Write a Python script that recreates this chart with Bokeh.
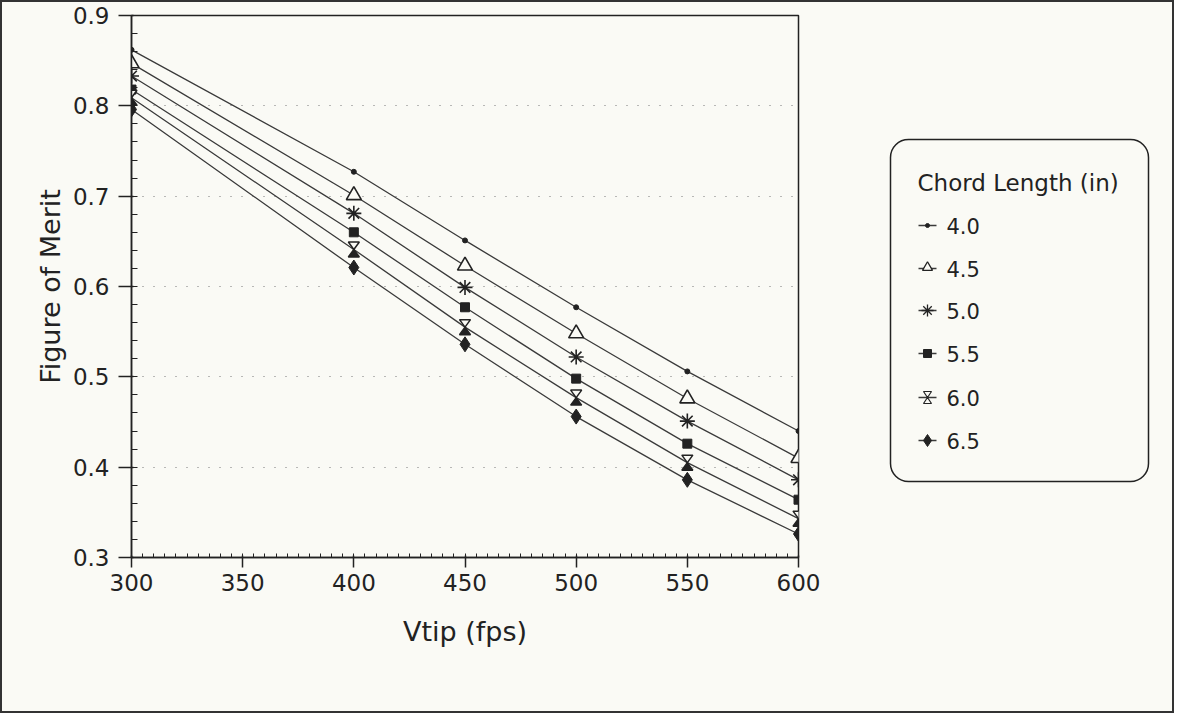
from bokeh.plotting import figure
from bokeh.layouts import row
from bokeh.models import (Range1d, SingleIntervalTicker, PrintfTickFormatter,
                          BoxAnnotation)
from bokeh.embed import file_html
from bokeh.resources import INLINE
from bokeh.core.properties import value

# ---------------- data ----------------
vtip = [300, 400, 450, 500, 550, 600]
chord_labels = ["4.0", "4.5", "5.0", "5.5", "6.0", "6.5"]
fom_40 = [0.862, 0.727, 0.651, 0.577, 0.506, 0.440]
fom_45 = [0.847, 0.701, 0.623, 0.548, 0.476, 0.410]
fom_50 = [0.833, 0.681, 0.599, 0.522, 0.451, 0.386]
fom_55 = [0.818, 0.660, 0.577, 0.498, 0.426, 0.364]
fom_60 = [0.809, 0.641, 0.555, 0.477, 0.405, 0.343]
fom_65 = [0.796, 0.621, 0.536, 0.456, 0.386, 0.326]
series = [fom_40, fom_45, fom_50, fom_55, fom_60, fom_65]
x_title = "Vtip (fps)"
y_title = "Figure of Merit"
legend_title = "Chord Length (in)"

# ---------------- style ----------------
BG = "#fafaf5"
INK = "#222222"
LINE = "#3a3a3a"
FONT = "DejaVu Sans"

W_MAIN, H = 860, 709
MB_L, MB_R, MB_T, MB_B = 129, 64, 13, 154
X0, X1, Y0, Y1 = 300, 600, 0.3, 0.9
FRAME_H = H - MB_T - MB_B

p = figure(width=W_MAIN, height=H, output_backend="svg", toolbar_location=None,
           x_range=Range1d(X0, X1), y_range=Range1d(Y0, Y1),
           min_border_left=MB_L, min_border_right=MB_R,
           min_border_top=MB_T, min_border_bottom=MB_B,
           background_fill_color=BG, border_fill_color=BG)
p.outline_line_color = INK
p.outline_line_width = 1.5

p.xaxis.ticker = SingleIntervalTicker(interval=50, num_minor_ticks=10)
p.yaxis.ticker = SingleIntervalTicker(interval=0.1, num_minor_ticks=5)
p.yaxis.formatter = PrintfTickFormatter(format="%.1f")
for ax in (p.xaxis, p.yaxis):
    ax.axis_line_color = INK
    ax.axis_line_width = 1.5
    ax.major_tick_line_color = INK
    ax.major_tick_line_width = 1.5
    ax.minor_tick_line_color = INK
    ax.minor_tick_line_width = 1
    ax.major_label_text_font = FONT
    ax.major_label_text_font_size = "23px"
    ax.major_label_text_color = INK
    ax.axis_label_text_font = FONT
    ax.axis_label_text_font_size = "27px"
    ax.axis_label_text_font_style = "normal"
    ax.axis_label_text_color = INK
p.xaxis.major_tick_out = 10
p.xaxis.major_tick_in = 2
p.xaxis.minor_tick_in = 4
p.xaxis.minor_tick_out = 0
p.xaxis.major_label_standoff = 6
p.xaxis.axis_label = x_title
p.xaxis.axis_label_standoff = 22
p.yaxis.major_tick_out = 13
p.yaxis.major_tick_in = 2
p.yaxis.minor_tick_in = 6
p.yaxis.minor_tick_out = 0
p.yaxis.major_label_standoff = 9
p.yaxis.axis_label = y_title
p.yaxis.axis_label_standoff = 4

p.xgrid.visible = False
p.ygrid.grid_line_color = "#777777"
p.ygrid.grid_line_dash = "1 10"
p.ygrid.grid_line_width = 1

# pixel scale of the frame (for the hourglass marker drawn as patches)
sx = (W_MAIN - MB_L - MB_R) / (X1 - X0)
sy = FRAME_H / (Y1 - Y0)

for s in series:
    p.line(vtip, s, line_color=LINE, line_width=1.3)

p.scatter(vtip, fom_40, marker="circle", size=5, color=INK)
p.scatter(vtip, fom_45, marker="triangle", size=15, fill_color=BG,
          line_color=INK, line_width=1.6)
p.scatter(vtip, fom_50, marker="asterisk", size=15, line_color=INK, line_width=1.6)
p.scatter(vtip, fom_55, marker="square", size=9, color=INK)
# hourglass for 6.0
hw, hh = 5.5, 7.5
top_xs = [[x - hw / sx, x + hw / sx, x] for x in vtip]
top_ys = [[y + hh / sy, y + hh / sy, y] for y in fom_60]
bot_xs = [[x, x - hw / sx, x + hw / sx] for x in vtip]
bot_ys = [[y, y - hh / sy, y - hh / sy] for y in fom_60]
p.patches(top_xs, top_ys, fill_color=BG, line_color=INK, line_width=1.5)
p.patches(bot_xs, bot_ys, fill_color=INK, line_color=INK, line_width=1.5)
p.scatter(vtip, fom_65, marker="diamond", size=15, color=INK)

# ---------------- legend panel (frame aligned with main plot frame) ----------------
W_LEG = 310
lf = figure(width=W_LEG, height=H, output_backend="svg", toolbar_location=None,
            x_range=Range1d(0, W_LEG), y_range=Range1d(0, FRAME_H),
            min_border_left=0, min_border_right=0,
            min_border_top=MB_T, min_border_bottom=MB_B,
            background_fill_color=BG, border_fill_color=BG)
lf.axis.visible = False
lf.grid.visible = False
lf.outline_line_color = None

lf.add_layout(BoxAnnotation(left=28, right=286, bottom=76, top=418,
                            fill_alpha=0, line_color=INK, line_alpha=1,
                            line_width=1.5, border_radius=18))
lf.text(x=[55], y=[375], text=[legend_title], text_font=value(FONT),
        text_font_size="23px", text_color=INK, text_baseline="middle",
        text_align="left")

row_y = [332, 289, 247, 204, 160, 117]
mx = 65
lf.segment(x0=[mx - 9] * len(row_y), x1=[mx + 9] * len(row_y), y0=row_y, y1=row_y,
           line_color=LINE, line_width=1.3)
lf.text(x=[84] * len(row_y), y=row_y, text=chord_labels, text_font=value(FONT),
        text_font_size="21px", text_color=INK, text_baseline="middle",
        text_align="left")
lf.scatter([mx], [row_y[0]], marker="circle", size=4, color=INK)
lf.scatter([mx], [row_y[1] + 1], marker="triangle", size=10, fill_color=BG,
           line_color=INK, line_width=1.3)
lf.scatter([mx], [row_y[2]], marker="asterisk", size=12, line_color=INK, line_width=1.3)
lf.scatter([mx], [row_y[3]], marker="square", size=8, color=INK)
ly = row_y[4]
lf.patches([[mx - 4, mx + 4, mx]], [[ly + 6, ly + 6, ly]], fill_color=BG,
           line_color=INK, line_width=1.2)
lf.patches([[mx, mx - 4, mx + 4]], [[ly, ly - 6, ly - 6]], fill_color=BG,
           line_color=INK, line_width=1.2)
lf.scatter([mx], [row_y[5]], marker="diamond", size=12, color=INK)

layout = row(p, lf)
layout.styles = {"border": "2px solid #333333", "background-color": BG}

open("out.html", "w").write(file_html(layout, INLINE))
